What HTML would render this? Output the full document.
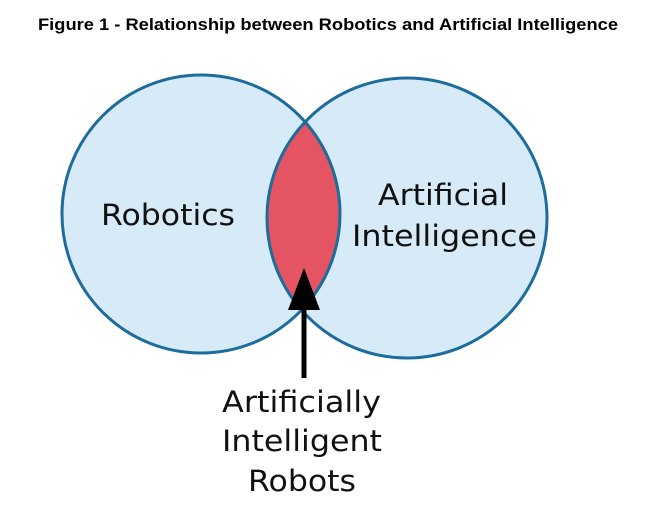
<!DOCTYPE html>
<html><head><meta charset="utf-8"><style>
html,body{margin:0;padding:0;background:#fff;}
body{width:659px;height:526px;overflow:hidden;}
</style></head><body>
<svg width="659" height="526" xmlns="http://www.w3.org/2000/svg">
<defs>
<clipPath id="cl"><circle cx="201" cy="214" r="139"/></clipPath>
</defs>
<text x="328" y="30" text-anchor="middle" font-family="Liberation Sans, sans-serif" font-weight="bold" font-size="17" textLength="580" lengthAdjust="spacingAndGlyphs">Figure 1 - Relationship between Robotics and Artificial Intelligence</text>
<circle cx="201" cy="214" r="139" fill="#d6ebf7"/>
<circle cx="407" cy="218" r="140" fill="#d6ebf7"/>
<circle cx="407" cy="218" r="140" fill="#e45463" clip-path="url(#cl)"/>
<circle cx="201" cy="214" r="139" fill="none" stroke="#1e6c9c" stroke-width="3"/>
<circle cx="407" cy="218" r="140" fill="none" stroke="#1e6c9c" stroke-width="3"/>
<g font-family="DejaVu Sans, Liberation Sans, sans-serif" font-size="29" fill="#111" lengthAdjust="spacingAndGlyphs">
<text x="101" y="225" textLength="134" lengthAdjust="spacingAndGlyphs">Robotics</text>
<text x="378" y="205" textLength="130" lengthAdjust="spacingAndGlyphs">Artificial</text>
<text x="352" y="246" textLength="185" lengthAdjust="spacingAndGlyphs">Intelligence</text>
<text x="222" y="412" textLength="159" lengthAdjust="spacingAndGlyphs">Artificially</text>
<text x="222" y="451" textLength="160" lengthAdjust="spacingAndGlyphs">Intelligent</text>
<text x="248" y="491" textLength="108" lengthAdjust="spacingAndGlyphs">Robots</text>
</g>
<line x1="304" y1="378" x2="304" y2="300" stroke="#000" stroke-width="5"/>
<polygon points="304,268 288,310 320,310" fill="#000"/>
</svg>
</body></html>
